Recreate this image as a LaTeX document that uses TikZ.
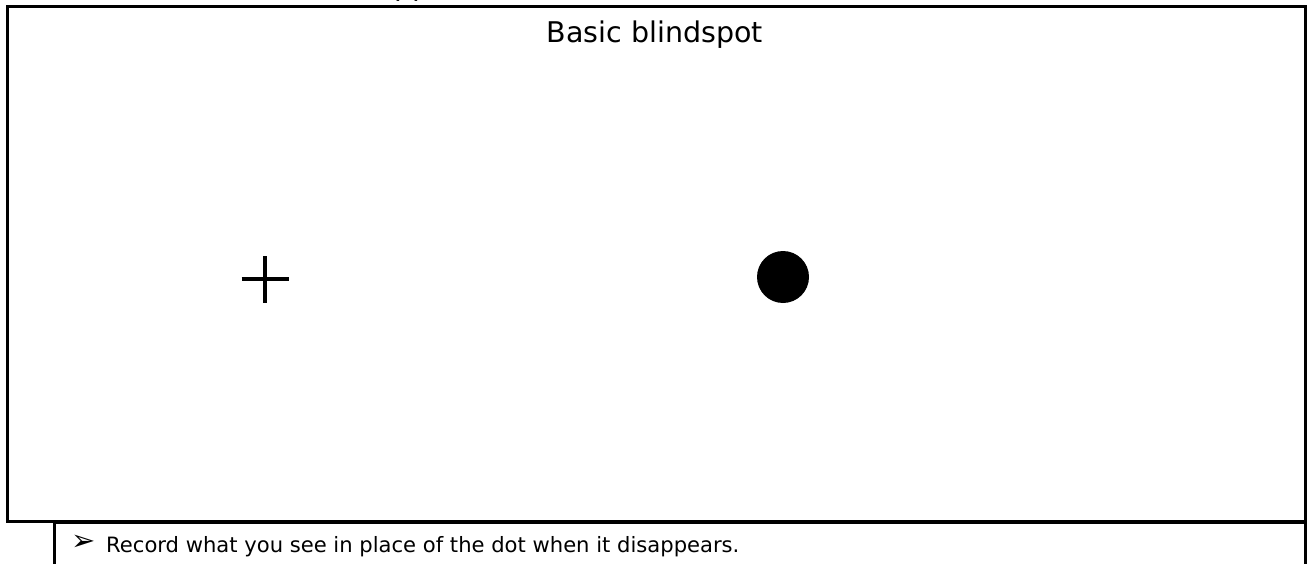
\documentclass[tikz,border=0pt]{standalone}
\usepackage{fontspec}
\setmainfont{DejaVu Sans}
\begin{document}
\begin{tikzpicture}[x=1pt,y=-1pt,
  frame/.style={line width=3pt},
  rule/.style={line width=3pt},
  crossline/.style={line width=3.5pt},
  titletext/.style={font=\fontsize{28.5}{32}\selectfont, inner sep=0pt, anchor=base},
  bodytext/.style={font=\fontsize{21.1}{24}\selectfont, inner sep=0pt, anchor=base west}]
\useasboundingbox (0,0) rectangle (1311,564);
\fill[white] (0,0) rectangle (1311,564);
% cut-off text above
\node[titletext, anchor=base west] (above) at (394,-4.5) {pp};
% frame
\draw[frame] (7,7) rectangle (1305,521);
\node[titletext] (title) at (655,43) {Basic blindspot};
% cross
\coordinate (c) at (265,279);
\draw[crossline] ([xshift=-23.5pt]c) -- ([xshift=23.5pt]c);
\draw[crossline] ([yshift=-23.5pt]c) -- ([yshift=23.5pt]c);
% dot
\fill (783,277) circle (26);
% table
\draw[rule] (54,522.5) -- (1305,522.5);
\draw[rule] (54,521) -- (54,566);
\draw[rule] (1305,521) -- (1305,566);
\node[bodytext, font=\fontsize{29}{30}\selectfont] (bullet) at (71,550) {➢};
\node[bodytext] (rec) at (106,552) {Record what you see in place of the dot when it disappears.};
\end{tikzpicture}
\end{document}
